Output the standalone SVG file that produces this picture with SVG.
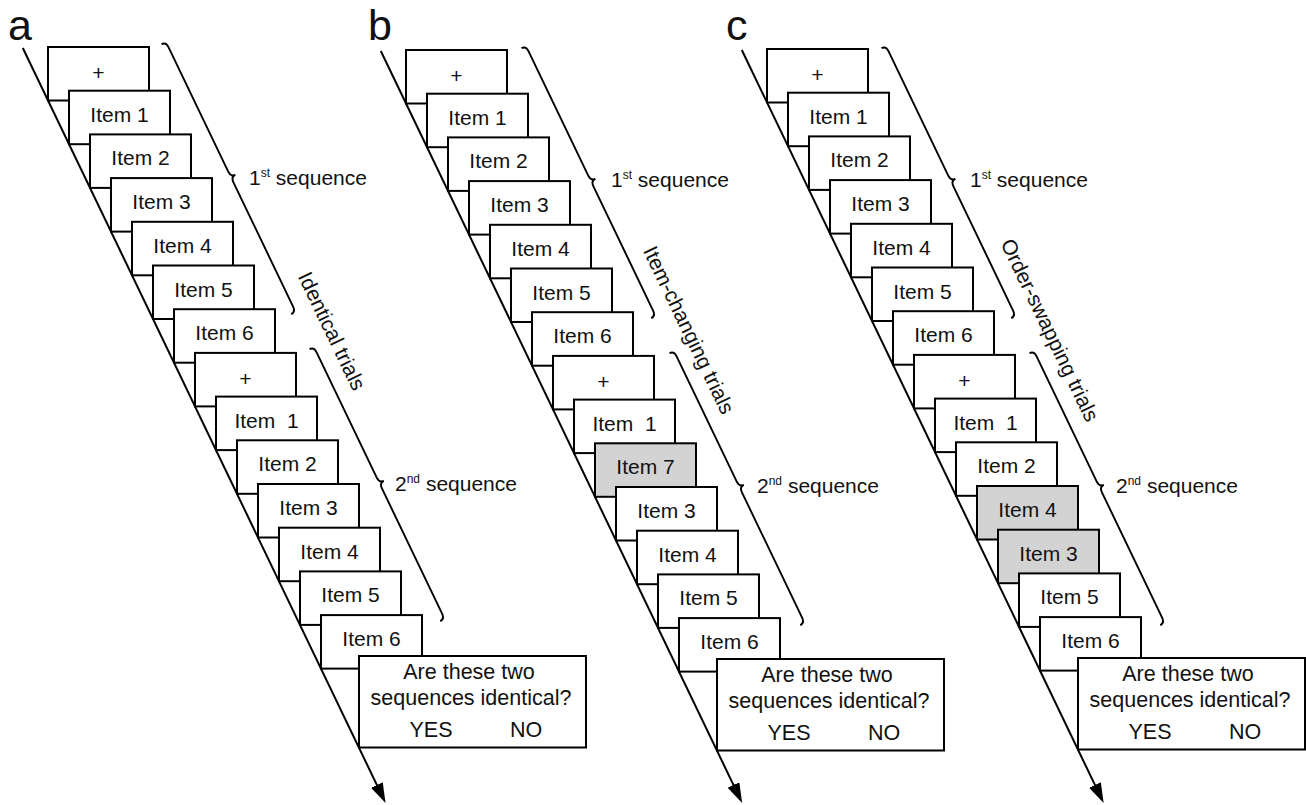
<svg xmlns="http://www.w3.org/2000/svg" width="1306" height="805" viewBox="0 0 1306 805">
<style>
.box{fill:#fff;stroke:#000;stroke-width:2}
.hl{fill:#d3d3d3}
.t{font-family:"Liberation Sans",Arial,Helvetica,sans-serif;font-size:21px;text-anchor:middle;fill:#111}
.q{font-family:"Liberation Sans",Arial,Helvetica,sans-serif;font-size:21.5px;text-anchor:middle;fill:#111}
.lab{font-family:"Liberation Sans",Arial,Helvetica,sans-serif;font-size:21px;fill:#111}
.big{font-family:"Liberation Sans",Arial,Helvetica,sans-serif;font-size:43px;fill:#111}
.axis{stroke:#000;stroke-width:2;fill:none}
.brace{stroke:#000;stroke-width:1.9;fill:none}
</style>
<defs>
<marker id="arr" markerUnits="userSpaceOnUse" markerWidth="22" markerHeight="14" refX="16" refY="6.5" orient="auto">
<path d="M0,0 L20,6.5 L0,13 z" fill="#000"/>
</marker>
<path id="brace1" d="M-5,0 Q0,0 0,6 L0,143.75 Q0,149.75 5,149.75 Q0,149.75 0,155.75 L0,293.5 Q0,299.5 -5,299.5"/>
<path id="brace2" d="M-5,0 Q0,0 0,6 L0,144.9 Q0,150.9 5,150.9 Q0,150.9 0,156.9 L0,295.8 Q0,301.8 -5,301.8"/>
</defs>
<rect width="1306" height="805" fill="#fff"/>

<!-- Panel a -->
<g id="panel-a">
<g id="a0" transform="translate(48,47)"><rect class="box" width="101" height="53.5"/><text class="t" x="50.5" y="33">+</text></g>
<g id="a1" transform="translate(69,90.7)"><rect class="box" width="101" height="53.5"/><text class="t" x="50.5" y="31">Item 1</text></g>
<g id="a2" transform="translate(90,134.4)"><rect class="box" width="101" height="53.5"/><text class="t" x="50.5" y="31">Item 2</text></g>
<g id="a3" transform="translate(111,178.1)"><rect class="box" width="101" height="53.5"/><text class="t" x="50.5" y="31">Item 3</text></g>
<g id="a4" transform="translate(132,221.8)"><rect class="box" width="101" height="53.5"/><text class="t" x="50.5" y="31">Item 4</text></g>
<g id="a5" transform="translate(153,265.5)"><rect class="box" width="101" height="53.5"/><text class="t" x="50.5" y="31">Item 5</text></g>
<g id="a6" transform="translate(174,309.2)"><rect class="box" width="101" height="53.5"/><text class="t" x="50.5" y="31">Item 6</text></g>
<g id="a7" transform="translate(195,352.9)"><rect class="box" width="101" height="53.5"/><text class="t" x="50.5" y="33">+</text></g>
<g id="a8" transform="translate(216,396.6)"><rect class="box" width="101" height="53.5"/><text class="t" x="50.5" y="31" xml:space="preserve">Item  1</text></g>
<g id="a9" transform="translate(237,440.3)"><rect class="box" width="101" height="53.5"/><text class="t" x="50.5" y="31">Item 2</text></g>
<g id="a10" transform="translate(258,484)"><rect class="box" width="101" height="53.5"/><text class="t" x="50.5" y="31">Item 3</text></g>
<g id="a11" transform="translate(279,527.7)"><rect class="box" width="101" height="53.5"/><text class="t" x="50.5" y="31">Item 4</text></g>
<g id="a12" transform="translate(300,571.4)"><rect class="box" width="101" height="53.5"/><text class="t" x="50.5" y="31">Item 5</text></g>
<g id="a13" transform="translate(321,615.1)"><rect class="box" width="101" height="53.5"/><text class="t" x="50.5" y="31">Item 6</text></g>
<g id="a-question" transform="translate(359,656)"><rect class="box" width="227" height="91.5"/>
<text class="q" x="110" y="23">Are these two</text><text class="q" x="112" y="49">sequences identical?</text>
<text class="q" x="72" y="81">YES</text><text class="q" x="167" y="81">NO</text></g>
</g>

<!-- Panel b -->
<g id="panel-b" transform="translate(358,3)">
<g id="b0" transform="translate(48,47)"><rect class="box" width="101" height="53.5"/><text class="t" x="50.5" y="33">+</text></g>
<g id="b1" transform="translate(69,90.7)"><rect class="box" width="101" height="53.5"/><text class="t" x="50.5" y="31">Item 1</text></g>
<g id="b2" transform="translate(90,134.4)"><rect class="box" width="101" height="53.5"/><text class="t" x="50.5" y="31">Item 2</text></g>
<g id="b3" transform="translate(111,178.1)"><rect class="box" width="101" height="53.5"/><text class="t" x="50.5" y="31">Item 3</text></g>
<g id="b4" transform="translate(132,221.8)"><rect class="box" width="101" height="53.5"/><text class="t" x="50.5" y="31">Item 4</text></g>
<g id="b5" transform="translate(153,265.5)"><rect class="box" width="101" height="53.5"/><text class="t" x="50.5" y="31">Item 5</text></g>
<g id="b6" transform="translate(174,309.2)"><rect class="box" width="101" height="53.5"/><text class="t" x="50.5" y="31">Item 6</text></g>
<g id="b7" transform="translate(195,352.9)"><rect class="box" width="101" height="53.5"/><text class="t" x="50.5" y="33">+</text></g>
<g id="b8" transform="translate(216,396.6)"><rect class="box" width="101" height="53.5"/><text class="t" x="50.5" y="31" xml:space="preserve">Item  1</text></g>
<g id="b9" transform="translate(237,440.3)"><rect class="box hl" width="101" height="53.5"/><text class="t" x="50.5" y="31">Item 7</text></g>
<g id="b10" transform="translate(258,484)"><rect class="box" width="101" height="53.5"/><text class="t" x="50.5" y="31">Item 3</text></g>
<g id="b11" transform="translate(279,527.7)"><rect class="box" width="101" height="53.5"/><text class="t" x="50.5" y="31">Item 4</text></g>
<g id="b12" transform="translate(300,571.4)"><rect class="box" width="101" height="53.5"/><text class="t" x="50.5" y="31">Item 5</text></g>
<g id="b13" transform="translate(321,615.1)"><rect class="box" width="101" height="53.5"/><text class="t" x="50.5" y="31">Item 6</text></g>
<g id="b-question" transform="translate(359,656)"><rect class="box" width="227" height="91.5"/>
<text class="q" x="110" y="23">Are these two</text><text class="q" x="112" y="49">sequences identical?</text>
<text class="q" x="72" y="81">YES</text><text class="q" x="167" y="81">NO</text></g>
</g>

<!-- Panel c -->
<g id="panel-c" transform="translate(719,2)">
<g id="c0" transform="translate(48,47)"><rect class="box" width="101" height="53.5"/><text class="t" x="50.5" y="33">+</text></g>
<g id="c1" transform="translate(69,90.7)"><rect class="box" width="101" height="53.5"/><text class="t" x="50.5" y="31">Item 1</text></g>
<g id="c2" transform="translate(90,134.4)"><rect class="box" width="101" height="53.5"/><text class="t" x="50.5" y="31">Item 2</text></g>
<g id="c3" transform="translate(111,178.1)"><rect class="box" width="101" height="53.5"/><text class="t" x="50.5" y="31">Item 3</text></g>
<g id="c4" transform="translate(132,221.8)"><rect class="box" width="101" height="53.5"/><text class="t" x="50.5" y="31">Item 4</text></g>
<g id="c5" transform="translate(153,265.5)"><rect class="box" width="101" height="53.5"/><text class="t" x="50.5" y="31">Item 5</text></g>
<g id="c6" transform="translate(174,309.2)"><rect class="box" width="101" height="53.5"/><text class="t" x="50.5" y="31">Item 6</text></g>
<g id="c7" transform="translate(195,352.9)"><rect class="box" width="101" height="53.5"/><text class="t" x="50.5" y="33">+</text></g>
<g id="c8" transform="translate(216,396.6)"><rect class="box" width="101" height="53.5"/><text class="t" x="50.5" y="31" xml:space="preserve">Item  1</text></g>
<g id="c9" transform="translate(237,440.3)"><rect class="box" width="101" height="53.5"/><text class="t" x="50.5" y="31">Item 2</text></g>
<g id="c10" transform="translate(258,484)"><rect class="box hl" width="101" height="53.5"/><text class="t" x="50.5" y="31">Item 4</text></g>
<g id="c11" transform="translate(279,527.7)"><rect class="box hl" width="101" height="53.5"/><text class="t" x="50.5" y="31">Item 3</text></g>
<g id="c12" transform="translate(300,571.4)"><rect class="box" width="101" height="53.5"/><text class="t" x="50.5" y="31">Item 5</text></g>
<g id="c13" transform="translate(321,615.1)"><rect class="box" width="101" height="53.5"/><text class="t" x="50.5" y="31">Item 6</text></g>
<g id="c-question" transform="translate(359,656)"><rect class="box" width="227" height="91.5"/>
<text class="q" x="110" y="23">Are these two</text><text class="q" x="112" y="49">sequences identical?</text>
<text class="q" x="72" y="81">YES</text><text class="q" x="167" y="81">NO</text></g>
</g>

<!-- Time axes -->
<g id="connectors">
<line class="axis" x1="22.8" y1="48" x2="383.8" y2="799.4" marker-end="url(#arr)"/>
<line class="axis" x1="380.8" y1="51" x2="740.4" y2="799.4" marker-end="url(#arr)"/>
<line class="axis" x1="741.8" y1="50" x2="1101.9" y2="799.4" marker-end="url(#arr)"/>
</g>

<!-- Braces -->
<g id="braces">
<use href="#brace1" class="brace" transform="translate(166,42) rotate(-25.66)"/>
<use href="#brace2" class="brace" transform="translate(314,347) rotate(-25.66)"/>
<use href="#brace1" class="brace" transform="translate(526,46) rotate(-25.66)"/>
<use href="#brace2" class="brace" transform="translate(674,351) rotate(-25.66)"/>
<use href="#brace1" class="brace" transform="translate(886,46) rotate(-25.66)"/>
<use href="#brace2" class="brace" transform="translate(1034,351) rotate(-25.66)"/>
</g>

<!-- Labels -->
<g id="labels">
<text class="big" x="8" y="40">a</text>
<text class="big" x="368" y="40">b</text>
<text class="big" x="726" y="40">c</text>

<text class="lab" x="249" y="185">1<tspan font-size="12" dy="-8">st</tspan><tspan dy="8"> sequence</tspan></text>
<text class="lab" x="611" y="187">1<tspan font-size="12" dy="-8">st</tspan><tspan dy="8"> sequence</tspan></text>
<text class="lab" x="970" y="187">1<tspan font-size="12" dy="-8">st</tspan><tspan dy="8"> sequence</tspan></text>

<text class="lab" x="395" y="491">2<tspan font-size="12" dy="-8">nd</tspan><tspan dy="8"> sequence</tspan></text>
<text class="lab" x="757" y="493">2<tspan font-size="12" dy="-8">nd</tspan><tspan dy="8"> sequence</tspan></text>
<text class="lab" x="1116" y="493">2<tspan font-size="12" dy="-8">nd</tspan><tspan dy="8"> sequence</tspan></text>

<text class="t" transform="translate(325.4,334.2) rotate(64.33)">Identical trials</text>
<text class="t" transform="translate(682.4,333.2) rotate(64.33)">Item-changing trials</text>
<text class="t" transform="translate(1043.4,333.2) rotate(64.33)">Order-swapping trials</text>
</g>
</svg>
